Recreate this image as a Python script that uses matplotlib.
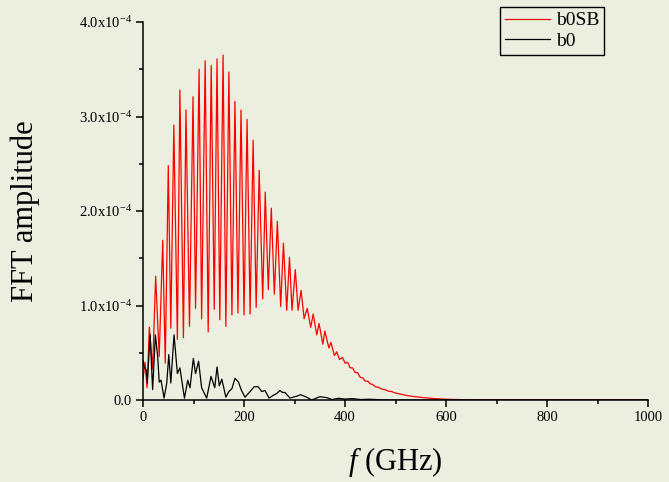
import numpy as np
import matplotlib
matplotlib.use('Agg')
import matplotlib.pyplot as plt
from matplotlib.ticker import MultipleLocator, FixedLocator, FixedFormatter

plt.rcParams['font.family'] = 'Liberation Serif'
plt.rcParams['mathtext.fontset'] = 'custom'
plt.rcParams['mathtext.rm'] = 'Liberation Serif'
plt.rcParams['mathtext.it'] = 'Liberation Serif:italic'

# amplitudes in units of 1e-4
f_b0sb = [0, 4, 8, 12.5, 19, 25, 32, 39, 44, 50, 55, 61, 68, 73, 80, 85, 92, 99, 104, 111,
          116, 123, 129, 135, 141, 146.5, 152, 158.5, 164, 170, 176, 182, 188, 194, 200, 206,
          212, 218, 224, 230, 237, 242, 248, 254, 260, 266, 272.5, 278, 284.5, 290, 295,
          301.5, 307, 313, 319, 325, 332, 337, 344, 348.5, 356, 360, 368, 372, 379, 383.5,
          389, 395, 400, 405, 410, 415, 420, 425, 430, 435, 440, 445, 450, 455, 460, 466,
          473, 479, 485, 492, 499, 512, 525, 539, 552, 570, 600, 650, 700, 1000]
a_b0sb = [0.22, 0.40, 0.13, 0.77, 0.33, 1.31, 0.46, 1.69, 0.39, 2.48, 0.76, 2.91, 0.64, 3.28,
          0.66, 3.07, 0.78, 3.21, 0.97, 3.50, 0.86, 3.59, 0.72, 3.54, 0.96, 3.61, 0.85, 3.65,
          0.78, 3.47, 0.90, 3.16, 0.92, 3.07, 0.90, 2.97, 0.91, 2.75, 0.98, 2.43, 1.07, 2.20,
          1.17, 2.03, 1.12, 1.89, 0.99, 1.66, 0.95, 1.51, 0.95, 1.38, 0.95, 1.16, 0.86, 0.97,
          0.77, 0.91, 0.69, 0.81, 0.59, 0.73, 0.55, 0.61, 0.47, 0.51, 0.43, 0.45, 0.39, 0.40,
          0.34, 0.34, 0.29, 0.29, 0.24, 0.235, 0.20, 0.20, 0.17, 0.165, 0.14, 0.135, 0.115,
          0.11, 0.095, 0.09, 0.075, 0.06, 0.045, 0.035, 0.027, 0.018, 0.008, 0.002, 0.0, 0.0]

f_b0 = [0, 2, 6, 8.5, 14, 19, 24.4, 29, 32, 35.6, 41.6, 47, 51, 55, 61.4, 68, 73, 82, 88.5,
        93, 99.6, 104, 110, 116, 126, 134.6, 139, 142, 146.5, 151, 156, 164, 170, 176, 182,
        189, 195, 202, 212, 220, 228, 235, 241.6, 249.5, 258, 265, 271, 276, 281, 291, 304,
        312, 324, 334, 350, 364, 374, 387, 400, 415, 430, 450, 470, 500, 1000]
a_b0 = [0.42, 0.35, 0.32, 0.18, 0.69, 0.11, 0.69, 0.46, 0.19, 0.21, 0.02, 0.18, 0.48, 0.18,
        0.69, 0.28, 0.34, 0.02, 0.21, 0.13, 0.44, 0.28, 0.41, 0.13, 0.02, 0.25, 0.18, 0.13,
        0.35, 0.15, 0.22, 0.03, 0.09, 0.12, 0.23, 0.19, 0.10, 0.03, 0.09, 0.14, 0.14, 0.09,
        0.10, 0.02, 0.05, 0.07, 0.10, 0.08, 0.08, 0.02, 0.04, 0.056, 0.03, 0.0, 0.035, 0.025,
        0.005, 0.018, 0.01, 0.015, 0.005, 0.008, 0.002, 0.0, 0.0]

y_ticks = [0, 1e-4, 2e-4, 3e-4, 4e-4]
y_labels = ['0.0', '1.0x10$^{-4}$', '2.0x10$^{-4}$', '3.0x10$^{-4}$', '4.0x10$^{-4}$']

bg = '#ECEFE0'
fig = plt.figure(figsize=(6.69, 4.82), dpi=100, facecolor=bg)
ax = fig.add_axes([0.2138, 0.1701, 0.7549, 0.7842], facecolor=bg)

ax.plot(f_b0sb, np.array(a_b0sb) * 1e-4, color='red', lw=0.9, label='b0SB')
ax.plot(f_b0, np.array(a_b0) * 1e-4, color='black', lw=0.9, label='b0')

ax.set_xlim(0, 1000)
ax.set_ylim(0, 4e-4)
ax.spines['top'].set_visible(False)
ax.spines['right'].set_visible(False)
for s in ('left', 'bottom'):
    ax.spines[s].set_linewidth(1.1)

ax.xaxis.set_major_locator(MultipleLocator(200))
ax.xaxis.set_minor_locator(MultipleLocator(100))
ax.yaxis.set_major_locator(FixedLocator(y_ticks))
ax.yaxis.set_major_formatter(FixedFormatter(y_labels))
ax.yaxis.set_minor_locator(MultipleLocator(0.5e-4))
ax.tick_params(which='major', direction='out', length=5, width=1.1, labelsize=10.5, pad=3)
ax.tick_params(which='minor', direction='out', length=3, width=1.1)

ax.set_xlabel('$f$ (GHz)', fontsize=22)
ax.set_ylabel('FFT amplitude', fontsize=22)
ax.xaxis.set_label_coords(0.5, -0.12)
ax.yaxis.set_label_coords(-0.205, 0.5)

leg = ax.legend(loc='upper right', bbox_to_anchor=(604 / 669, 1 - 7 / 482),
                bbox_transform=fig.transFigure, fontsize=14, frameon=True, fancybox=False,
                edgecolor='black', facecolor=bg, framealpha=1, borderaxespad=0,
                borderpad=0.25, labelspacing=0.15, handlelength=2.3, handletextpad=0.3)
leg.get_frame().set_linewidth(1.0)

fig.savefig('out.png', dpi=100, facecolor=bg)
